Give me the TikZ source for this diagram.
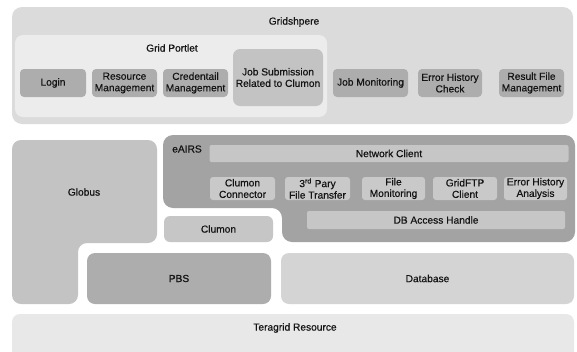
\documentclass[tikz,border=0pt]{standalone}
\usepackage{fontspec}
\setmainfont[FakeBold=0.6]{Liberation Sans}
\begin{document}
\begin{tikzpicture}[x=1pt,y=-1pt,
  lbl/.style={font=\fontsize{10.2}{11.5}\selectfont, text=black!92, align=center},
  box/.style={lbl, rounded corners=4pt, inner sep=0pt, draw=none},
  dk/.style={box, fill=gray!64},
  md/.style={box, fill=gray!45},
  lt/.style={box, fill=gray!40}]
\useasboundingbox (0,0) rectangle (577,351);
\clip (0,0) rectangle (577,351);
\fill[white] (0,0) rectangle (577,351);
% Gridshpere
\node[box, rounded corners=10pt, fill=gray!28, minimum width=561pt, minimum height=117pt] (gs) at (292.5,65.5) {};
\node[lbl] (gslbl) at (294,22) {Gridshpere};
\node[box, rounded corners=8pt, fill=gray!15, minimum width=312pt, minimum height=82pt] (portlet) at (171,76) {};
\node[lbl] (plbl) at (172,48) {Grid Portlet};
\node[dk, minimum width=66pt, minimum height=28pt] (login) at (53,83) {Login};
\node[dk, minimum width=65pt, minimum height=28pt] (res) at (124.5,83) {Resource\\Management};
\node[dk, minimum width=65pt, minimum height=28pt] (cred) at (195.5,83) {Credentail\\Management};
\node[box, rounded corners=7pt, fill=gray!47, minimum width=90pt, minimum height=57pt] (jobsub) at (278,77.5) {Job Submission\\Related to Clumon};
\node[dk, minimum width=75pt, minimum height=28pt] (jobmon) at (370.5,83) {Job Monitoring};
\node[dk, minimum width=64pt, minimum height=28pt] (errchk) at (450,83) {Error History\\Check};
\node[dk, minimum width=65pt, minimum height=28pt] (result) at (531.5,83) {Result File\\Management};
% Globus
\fill[gray!47, rounded corners=9pt] (12,140) -- (157,140) -- (157,243) -- (78,243) -- (78,304) -- (12,304) -- cycle;
\node[lbl] (globus) at (84,192) {Globus};
% eAIRS
\fill[gray!72, rounded corners=10pt] (163,135) -- (575,135) -- (575,242) -- (282,242) -- (282,208) -- (163,208) -- cycle;
\node[lbl] (eairs) at (187,149) {eAIRS};
\node[box, rounded corners=2pt, fill=gray!45, minimum width=359pt, minimum height=17pt] (net) at (389,153.5) {Network Client};
\node[box, rounded corners=3pt, fill=gray!42, minimum width=65pt, minimum height=23pt] (cc) at (242.5,188.5) {Clumon\\Connector};
\node[box, rounded corners=3pt, fill=gray!42, minimum width=65pt, minimum height=23pt] (third) at (317.5,188.5) {3\textsuperscript{rd} Pary\\File Transfer};
\node[box, rounded corners=3pt, fill=gray!42, minimum width=63pt, minimum height=23pt] (fmon) at (393.5,188.5) {File\\Monitoring};
\node[box, rounded corners=3pt, fill=gray!42, minimum width=64pt, minimum height=23pt] (ftp) at (465,188.5) {GridFTP\\Client};
\node[box, rounded corners=3pt, fill=gray!42, minimum width=63pt, minimum height=23pt] (eha) at (535.5,188.5) {Error History\\Analysis};
\node[box, rounded corners=2pt, fill=gray!45, minimum width=258pt, minimum height=18pt] (db) at (436,220) {DB Access Handle};
% lower
\node[box, rounded corners=6pt, fill=gray!45, minimum width=109pt, minimum height=26pt] (clumon) at (218.5,229) {Clumon};
\node[box, rounded corners=8pt, fill=gray!64, minimum width=184pt, minimum height=51pt] (pbs) at (179,278.5) {PBS};
\node[box, rounded corners=8pt, fill=gray!34, minimum width=293pt, minimum height=51pt] (database) at (427.5,278.5) {Database};
\node[box, rounded corners=8pt, fill=gray!18, minimum width=562pt, minimum height=46pt] (tera) at (293,337) {};
\node[lbl] (teralbl) at (295,328) {Teragrid Resource};
\end{tikzpicture}
\end{document}
